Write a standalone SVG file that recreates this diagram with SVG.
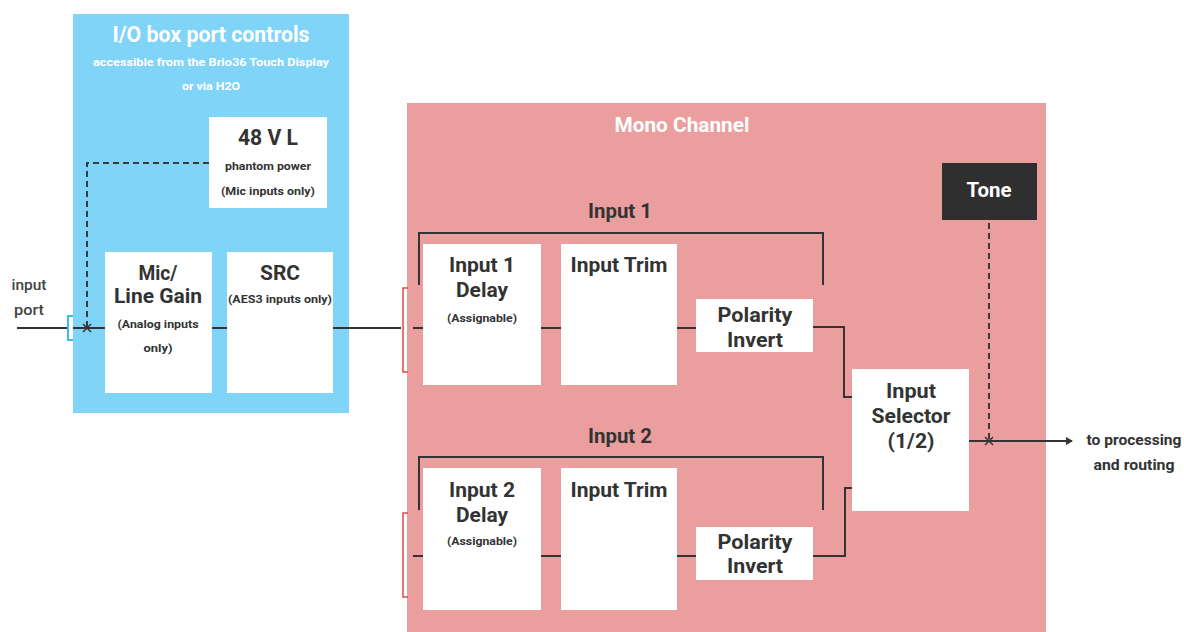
<svg xmlns="http://www.w3.org/2000/svg" width="1184" height="632" viewBox="0 0 1184 632">
<defs>
<style>
.t{font-family:Roboto,"Liberation Sans",sans-serif;font-weight:bold;fill:#333333;text-anchor:middle}
.w{fill:#ffffff}
.n{font-weight:500;fill:#444444}
.box{fill:#ffffff}
.ln{stroke:#333333;stroke-width:2;fill:none}
.dash{stroke:#3a3a3a;stroke-width:2;fill:none;stroke-dasharray:6 4}
</style>
<marker id="arr" markerWidth="8" markerHeight="8" refX="6" refY="4" orient="auto" markerUnits="userSpaceOnUse">
<path d="M0,0 L7,4 L0,8 Z" fill="#333333"/>
</marker>
</defs>
<rect width="1184" height="632" fill="#ffffff"/>

<g id="io-box">
<rect x="73" y="14" width="276" height="399" fill="#80d4f7"/>
<text class="t w" x="211" y="42" font-size="22" textLength="197" lengthAdjust="spacingAndGlyphs">I/O box port controls</text>
<text class="t w" x="211" y="66" font-size="11" textLength="236" lengthAdjust="spacingAndGlyphs">accessible from the Brio36 Touch Display</text>
<text class="t w" x="211" y="90" font-size="11" textLength="58" lengthAdjust="spacingAndGlyphs">or via H2O</text>
</g>

<g id="mono-channel">
<rect x="407" y="103" width="639" height="529" fill="#eb9e9e"/>
<text class="t w" x="682" y="132" font-size="20" textLength="135" lengthAdjust="spacingAndGlyphs">Mono Channel</text>
</g>

<g id="phantom">
<rect class="box" x="209" y="117" width="118" height="91"/>
<text class="t" x="268" y="145" font-size="22" textLength="60" lengthAdjust="spacingAndGlyphs">48 V L</text>
<text class="t" x="268" y="170" font-size="11" textLength="86" lengthAdjust="spacingAndGlyphs">phantom power</text>
<text class="t" x="268" y="195" font-size="11" textLength="94" lengthAdjust="spacingAndGlyphs">(Mic inputs only)</text>
</g>

<g id="mic-gain">
<rect class="box" x="105" y="252" width="107" height="141"/>
<text class="t" x="158" y="280" font-size="20" textLength="39" lengthAdjust="spacingAndGlyphs">Mic/</text>
<text class="t" x="158" y="303" font-size="20" textLength="88" lengthAdjust="spacingAndGlyphs">Line Gain</text>
<text class="t" x="158" y="328" font-size="11" textLength="81" lengthAdjust="spacingAndGlyphs">(Analog inputs</text>
<text class="t" x="158" y="352" font-size="11" textLength="29" lengthAdjust="spacingAndGlyphs">only)</text>
</g>

<g id="src">
<rect class="box" x="227" y="252" width="106" height="141"/>
<text class="t" x="280" y="280" font-size="20" textLength="40" lengthAdjust="spacingAndGlyphs">SRC</text>
<text class="t" x="280" y="303" font-size="11" textLength="104" lengthAdjust="spacingAndGlyphs">(AES3 inputs only)</text>
</g>

<g id="input-port-label">
<text class="t n" x="29" y="290" font-size="14" textLength="35" lengthAdjust="spacingAndGlyphs">input</text>
<text class="t n" x="29" y="315" font-size="14" textLength="30" lengthAdjust="spacingAndGlyphs">port</text>
</g>

<g id="input1-label">
<text class="t" x="620" y="218" font-size="20" textLength="64" lengthAdjust="spacingAndGlyphs">Input 1</text>
</g>
<g id="input1-delay">
<rect class="box" x="423" y="244" width="118" height="141"/>
<text class="t" x="482" y="272" font-size="20" textLength="66" lengthAdjust="spacingAndGlyphs">Input 1</text>
<text class="t" x="482" y="297" font-size="20" textLength="52" lengthAdjust="spacingAndGlyphs">Delay</text>
<text class="t" x="482" y="322" font-size="10" textLength="70" lengthAdjust="spacingAndGlyphs">(Assignable)</text>
</g>
<g id="input1-trim">
<rect class="box" x="561" y="244" width="116" height="141"/>
<text class="t" x="619" y="272" font-size="20" textLength="97" lengthAdjust="spacingAndGlyphs">Input Trim</text>
</g>
<g id="input1-polarity">
<rect class="box" x="696" y="299" width="117" height="53"/>
<text class="t" x="755" y="322" font-size="20" textLength="75" lengthAdjust="spacingAndGlyphs">Polarity</text>
<text class="t" x="755" y="347" font-size="20" textLength="56" lengthAdjust="spacingAndGlyphs">Invert</text>
</g>

<g id="input2-label">
<text class="t" x="620" y="443" font-size="20" textLength="64" lengthAdjust="spacingAndGlyphs">Input 2</text>
</g>
<g id="input2-delay">
<rect class="box" x="423" y="468" width="118" height="142"/>
<text class="t" x="482" y="497" font-size="20" textLength="66" lengthAdjust="spacingAndGlyphs">Input 2</text>
<text class="t" x="482" y="522" font-size="20" textLength="52" lengthAdjust="spacingAndGlyphs">Delay</text>
<text class="t" x="482" y="545" font-size="10" textLength="70" lengthAdjust="spacingAndGlyphs">(Assignable)</text>
</g>
<g id="input2-trim">
<rect class="box" x="561" y="468" width="116" height="142"/>
<text class="t" x="619" y="497" font-size="20" textLength="97" lengthAdjust="spacingAndGlyphs">Input Trim</text>
</g>
<g id="input2-polarity">
<rect class="box" x="696" y="527" width="117" height="53"/>
<text class="t" x="755" y="549" font-size="20" textLength="75" lengthAdjust="spacingAndGlyphs">Polarity</text>
<text class="t" x="755" y="573" font-size="20" textLength="56" lengthAdjust="spacingAndGlyphs">Invert</text>
</g>

<g id="input-selector">
<rect class="box" x="852" y="369" width="117" height="142"/>
<text class="t" x="911" y="398" font-size="20" textLength="50" lengthAdjust="spacingAndGlyphs">Input</text>
<text class="t" x="911" y="423" font-size="20" textLength="79" lengthAdjust="spacingAndGlyphs">Selector</text>
<text class="t" x="911" y="448" font-size="20" textLength="47" lengthAdjust="spacingAndGlyphs">(1/2)</text>
</g>

<g id="tone">
<rect x="942" y="163" width="95" height="57" fill="#2f2f2f"/>
<text class="t w" x="989" y="197" font-size="20" textLength="45" lengthAdjust="spacingAndGlyphs">Tone</text>
</g>

<g id="output-label">
<text class="t" x="1134" y="445" font-size="14" textLength="95" lengthAdjust="spacingAndGlyphs">to processing</text>
<text class="t" x="1134" y="470" font-size="14" textLength="81" lengthAdjust="spacingAndGlyphs">and routing</text>
</g>

<g id="connectors">
<line class="ln" x1="17" y1="328" x2="67" y2="328" stroke="#555"/>
<path d="M73,316 H68 V340 H73" fill="none" stroke="#3fb8ef" stroke-width="2"/>
<line class="ln" x1="73" y1="328" x2="105" y2="328"/>
<line class="ln" x1="212" y1="328" x2="227" y2="328"/>
<line class="ln" x1="333" y1="328" x2="401" y2="328"/>
<path class="dash" d="M209,163 H87 V328"/>
<path d="M83,324 L91,332 M91,324 L83,332" stroke="#333" stroke-width="1.5"/>
<path d="M408,288 H403 V372 H408" fill="none" stroke="#e04848" stroke-width="1.5"/>
<path d="M408,513 H403 V597 H408" fill="none" stroke="#e04848" stroke-width="1.5"/>
<line class="ln" x1="413" y1="328" x2="423" y2="328"/>
<line class="ln" x1="541" y1="328" x2="561" y2="328"/>
<line class="ln" x1="677" y1="328" x2="696" y2="328"/>
<path class="ln" d="M813,327 H844 V397 H852"/>
<path class="ln" d="M419,285 V233 H823 V285"/>
<line class="ln" x1="413" y1="556" x2="423" y2="556"/>
<line class="ln" x1="541" y1="556" x2="561" y2="556"/>
<line class="ln" x1="677" y1="556" x2="696" y2="556"/>
<path class="ln" d="M813,556 H845 V488 H852"/>
<path class="ln" d="M419,510 V457 H823 V510"/>
<path class="dash" d="M989,223 V441"/>
<line class="ln" x1="969" y1="441" x2="1072" y2="441" marker-end="url(#arr)"/>
<path d="M985,437 L993,445 M993,437 L985,445" stroke="#333" stroke-width="1.5"/>
</g>
</svg>
